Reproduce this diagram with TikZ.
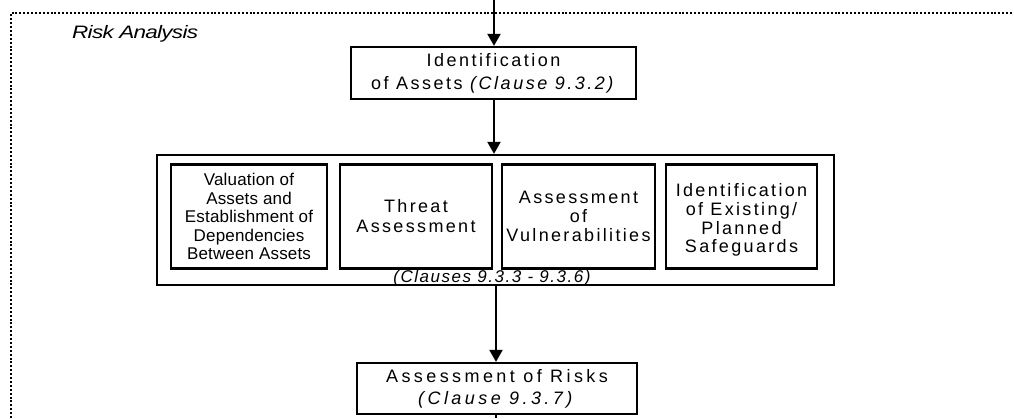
\documentclass[tikz,border=0pt]{standalone}
\usepackage{fontspec}
\setmainfont{Liberation Sans}
\newfontfamily\rkTop[LetterSpace=14]{Liberation Sans}
\newfontfamily\rkInA[LetterSpace=1]{Liberation Sans}
\newfontfamily\rkInB[LetterSpace=13]{Liberation Sans}
\newfontfamily\rkLow[LetterSpace=19]{Liberation Sans}
\newfontfamily\rkClause[LetterSpace=9]{Liberation Sans}
\newfontfamily\rkTitle[FakeStretch=1.25,LetterSpace=-4]{Liberation Sans}
\usetikzlibrary{arrows.meta}
\begin{document}
\begin{tikzpicture}[x=1pt,y=-1pt,
  stagebox/.style={draw, line width=2.3pt, inner sep=0pt, align=center},
  subbox/.style={draw, line width=2.6pt, inner sep=0pt, align=center,
    minimum height=104pt},
  flow/.style={line width=2.2pt, -{Triangle[length=12pt,width=13pt]}},
  frame/.style={line width=1.7pt, dash pattern=on 2pt off 1.9pt}]
\useasboundingbox (0,0) rectangle (1014,418);

% dotted boundary of the analysis stage (open to the right and below)
\draw[frame] (11,418) -- (11,13) -- (1014,13);
\node[anchor=base west, inner sep=0pt, font=\rkTitle\itshape\fontsize{18}{20}\selectfont]
  (title) at (72,38) {Risk Analysis};

% identification of assets
\node[stagebox, minimum width=285pt, minimum height=52pt,
  font=\rkTop\fontsize{18}{23}\selectfont] (ident) at (493.5,73)
  {Identification\\of Assets \textit{(Clause 9.3.2)}};

% group of the four parallel activities
\node[draw, line width=2.3pt, minimum width=677pt, minimum height=130pt,
  inner sep=0pt] (group) at (495.5,220) {};
\node[subbox, minimum width=156pt, font=\rkInA\fontsize{17}{18.5}\selectfont]
  (valuation) at (249,216.5)
  {Valuation of\\Assets and\\Establishment of\\Dependencies\\Between Assets};
\node[subbox, minimum width=152pt, font=\rkInB\fontsize{18}{20}\selectfont]
  (threat) at (416,216.5) {Threat\\Assessment};
\node[subbox, minimum width=153pt, font=\rkInB\fontsize{18}{18.7}\selectfont]
  (vuln) at (578.5,216.5) {Assessment\\of\\Vulnerabilities};
% a tall strut on the first line sets this text a little lower in its box
\node[subbox, minimum width=151pt, font=\rkInB\fontsize{18}{18.9}\selectfont]
  (safeguards) at (741.5,216.5)
  {\rule{0pt}{20pt}Identification\\of Existing/\\Planned\\Safeguards};
\node[anchor=base, inner sep=0pt, font=\rkClause\itshape\fontsize{17}{18}\selectfont]
  (clauses) at (492,282) {(Clauses 9.3.3 - 9.3.6)};

% assessment of risks
\node[stagebox, minimum width=280pt, minimum height=51pt,
  font=\rkLow\fontsize{18}{22}\selectfont] (risks) at (497,388.5)
  {Assessment of Risks\\\textit{(Clause 9.3.7)}};

% connectors
\coordinate (entry) at (494,0);
\coordinate (exit) at (496,418);
\draw[flow] (entry) -- (entry |- ident.north);
\draw[flow] (ident.south -| entry) -- (entry |- group.north);
\draw[flow] (group.south -| exit) -- (exit |- risks.north);
\draw[line width=2.2pt] (risks.south -| exit) -- (exit);
\end{tikzpicture}
\end{document}
